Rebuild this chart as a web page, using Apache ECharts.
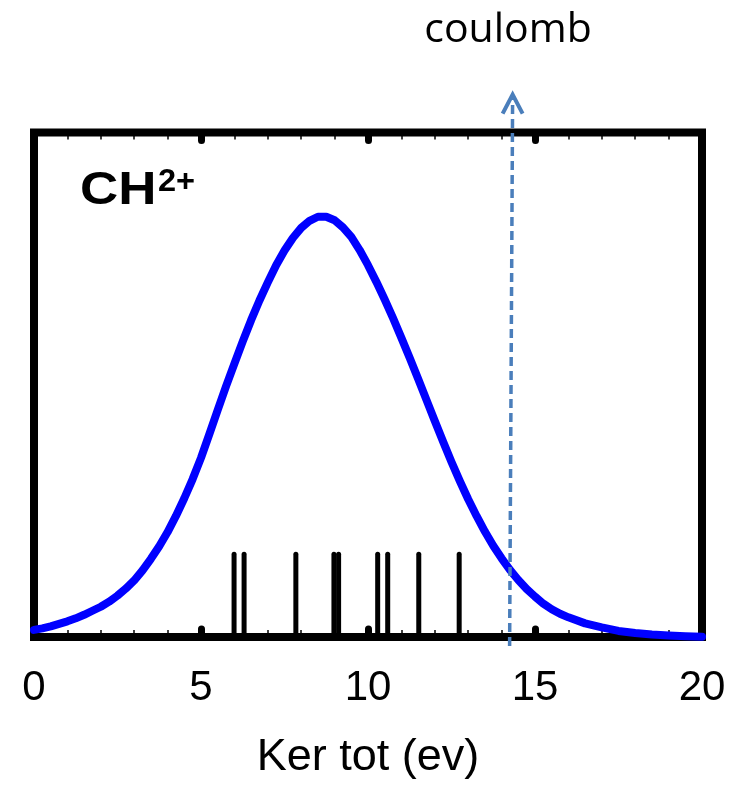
<!DOCTYPE html>
<html><head><meta charset="utf-8">
<script src="https://cdn.jsdelivr.net/npm/echarts@6/dist/echarts.min.js"></script>
<style>html,body{margin:0;padding:0;background:#fff}#c{width:738px;height:785px}</style>
</head><body><div id="c"></div>
<script>
// Blue distribution curve (x in eV, y in fraction of plot height)
const curveX = [0,0.25,0.5,0.75,1,1.25,1.5,1.75,2,2.25,2.5,2.75,3,3.25,3.5,3.75,4,4.25,4.5,4.75,5,5.25,5.5,5.75,6,6.25,6.5,6.75,7,7.25,7.5,7.75,8,8.25,8.5,8.75,9,9.25,9.5,9.75,10,10.25,10.5,10.75,11,11.25,11.5,11.75,12,12.25,12.5,12.75,13,13.25,13.5,13.75,14,14.25,14.5,14.75,15,15.25,15.5,15.75,16,16.5,17,17.5,18,18.5,19,19.5,20];
const curveY = [0.014,0.017,0.021,0.026,0.031,0.037,0.044,0.052,0.060,0.070,0.082,0.096,0.112,0.132,0.155,0.180,0.208,0.240,0.275,0.313,0.355,0.402,0.450,0.497,0.542,0.586,0.628,0.667,0.703,0.737,0.766,0.791,0.811,0.825,0.833,0.833,0.826,0.812,0.793,0.767,0.737,0.704,0.669,0.632,0.593,0.553,0.512,0.470,0.428,0.387,0.347,0.309,0.273,0.240,0.209,0.181,0.156,0.133,0.113,0.095,0.080,0.066,0.055,0.046,0.039,0.027,0.019,0.012,0.008,0.005,0.003,0.0015,0.0005];
// Black sticks
const stickX = [5.99,6.29,7.84,8.98,9.12,10.29,10.59,11.52,12.73];
const stickH = [0.164,0.164,0.164,0.164,0.164,0.164,0.164,0.164,0.164];
// Coulomb arrow (bottom, top)
const arrowX = [14.24,14.33];
const arrowY = [-0.018,1.075];
// Axis
const xTicks = [0,5,10,15,20];
const xName = 'Ker tot (ev)';
const topLabel = 'coulomb';

const chart = echarts.init(document.getElementById('c'), null, {renderer:'canvas'});
const axisCommon = {
  type:'value', min:xTicks[0], max:xTicks[xTicks.length-1], interval:xTicks[1]-xTicks[0],
  axisLine:{show:false}, splitLine:{show:false},
  axisTick:{show:true, inside:true, length:8, lineStyle:{color:'#000', width:7, cap:'round'}},
  minorTick:{show:true, splitNumber:5, length:7, lineStyle:{color:'#000', width:1.5}}
};
chart.setOption({
  animation:false,
  backgroundColor:'#fff',
  grid:{left:34, right:36, top:132.5, bottom:147, show:true, borderColor:'#000', borderWidth:8, backgroundColor:'transparent'},
  xAxis:[
    Object.assign({}, axisCommon, {position:'bottom',
      axisLabel:{show:true, color:'#000', fontSize:42, fontFamily:'Liberation Sans', margin:30},
      name:xName, nameLocation:'middle', nameGap:98,
      nameTextStyle:{color:'#000', fontSize:45, fontFamily:'Liberation Sans'}}),
    Object.assign({}, axisCommon, {position:'top', axisLabel:{show:false}})
  ],
  yAxis:{type:'value', min:0, max:1, show:false},
  graphic:[
    {type:'text', x:508, y:30, style:{text:topLabel, fontFamily:'Open Sans', fontSize:41, fill:'#000', align:'center', verticalAlign:'middle'}},
    {type:'text', x:80, y:191, style:{text:'CH', fontFamily:'Liberation Sans', fontWeight:'bold', fontSize:46, fill:'#000', align:'left', verticalAlign:'middle'}, scaleX:1.15},
    {type:'text', x:158, y:182, style:{text:'2+', fontFamily:'Liberation Sans', fontWeight:'bold', fontSize:31, fill:'#000', align:'left', verticalAlign:'middle'}, scaleX:1.05}
  ],
  series:[
    {type:'custom', xAxisIndex:0, yAxisIndex:0, z:3,
      data: stickX.map((x,i)=>[x, stickH[i]]),
      renderItem:(params, api)=>{
        const p0 = api.coord([api.value(0), 0]);
        const p1 = api.coord([api.value(0), api.value(1)]);
        return {type:'line', shape:{x1:p0[0], y1:p0[1], x2:p1[0], y2:p1[1]}, style:{stroke:'#000', lineWidth:5, lineCap:'round'}};
      }},
    {type:'line', xAxisIndex:0, yAxisIndex:0, z:4, data: curveX.map((x,i)=>[x, curveY[i]]),
      smooth:false, showSymbol:false, clip:false,
      lineStyle:{color:'#0000ff', width:8, cap:'round', join:'round'}},
    {type:'custom', xAxisIndex:0, yAxisIndex:0, z:5, clip:false,
      data:[[arrowX[0], arrowY[0], arrowX[1], arrowY[1]]],
      renderItem:(params, api)=>{
        const b = api.coord([api.value(0), api.value(1)]);
        const t = api.coord([api.value(2), api.value(3)]);
        const col = '#4a7ebb';
        return {type:'group', children:[
          {type:'line', shape:{x1:b[0], y1:b[1], x2:t[0], y2:t[1]+2}, style:{stroke:col, lineWidth:3.5, lineDash:[9,5]}},
          {type:'polyline', shape:{points:[[t[0]-10,t[1]+19],[t[0],t[1]],[t[0]+10,t[1]+19]]}, style:{stroke:col, lineWidth:4, fill:null, lineJoin:'miter'}}
        ]};
      }}
  ]
});
</script></body></html>
